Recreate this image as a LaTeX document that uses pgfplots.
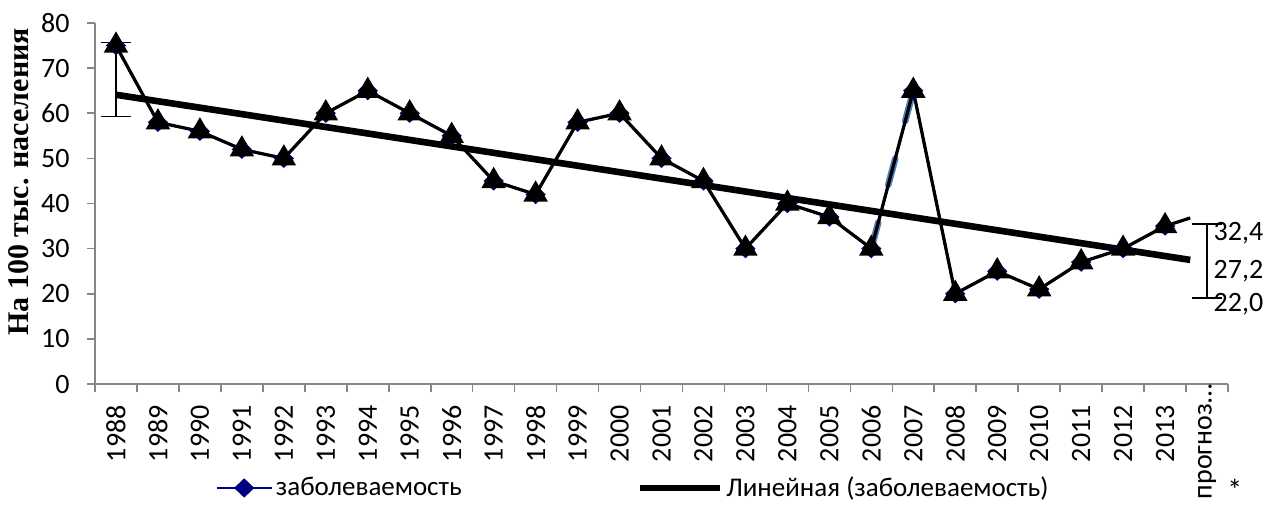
\documentclass[border=0pt]{standalone}
\usepackage{fontspec}
\setmainfont{Carlito}
\newfontfamily\tnr{Liberation Serif}
\usepackage{pgfplots}
\pgfplotsset{compat=1.18}
\definecolor{navyb}{RGB}{0,0,128}
\definecolor{dashblue}{RGB}{79,129,189}
\definecolor{axgray}{RGB}{134,134,134}
\begin{document}
\begin{tikzpicture}[font=\fontsize{12.5pt}{15pt}\selectfont]
\useasboundingbox (-47.5pt,-63pt) rectangle (586pt,192pt);
\begin{axis}[
  scale only axis, width=566.5pt, height=180.5pt,
  xmin=-0.5, xmax=26.5, ymin=0, ymax=80,
  clip=false,
  axis lines*=left,
  axis line style={axgray, line width=0.8pt},
  ytick={0,10,...,80},
  xtick={0,...,26},
  xticklabels={1988,1989,1990,1991,1992,1993,1994,1995,1996,1997,1998,1999,2000,2001,2002,2003,2004,2005,2006,2007,2008,2009,2010,2011,2012,2013,прогноз…\kern-10.5pt},
  major x tick style={draw=none},
  minor xtick={-0.5,0.5,...,26.5},
  tick align=outside,
  major tick length=4pt, minor tick length=4pt,
  tick style={axgray, line width=0.8pt},
  tick label style={font=\fontsize{14pt}{16pt}\selectfont},
  xticklabel style={rotate=90, anchor=east, inner sep=0pt, xshift=-6.5pt},
  yticklabel style={anchor=east, inner sep=0pt, xshift=-8.5pt},
  /pgf/number format/assume math mode=true,
  every axis y label/.style={at={(axis description cs:-0.067,0.56)}, rotate=90, anchor=center},
  ylabel={\fontsize{15pt}{18pt}\selectfont\tnr\bfseries На 100 тыс. населения},
  legend style={at={(axis description cs:0.106,-0.288)}, anchor=west, draw=none, inner sep=0pt,
    legend columns=2, /tikz/every even column/.append style={column sep=86pt},
    font=\fontsize{13.5pt}{16pt}\selectfont,
    nodes={inner sep=1.5pt}},
]
% trend line
\addplot[black, line width=3.3pt, forget plot] coordinates {(0,64.1) (25.6,27.5)};
% highlighted segment
\addplot[dashblue, line width=3.3pt, dash pattern=on 13.5pt off 19.5pt, line cap=round, forget plot] coordinates {(18,30) (19,65)};
% series (navy diamonds)
\addplot[navyb, line width=1.2pt, mark=diamond*, mark size=4pt, mark options={xscale=1.4},
  legend image code/.code={\draw[mark repeat=2,mark phase=2] plot coordinates {(0pt,0pt) (13.75pt,0pt) (27.5pt,0pt)};}]
coordinates {
(0,75) (1,58) (2,56) (3,52) (4,50) (5,60) (6,65) (7,60) (8,55) (9,45)
(10,42) (11,58) (12,60) (13,50) (14,45) (15,30) (16,40) (17,37) (18,30) (19,65)
(20,20) (21,25) (22,21) (23,27) (24,30) (25,35)
};
\addlegendentry{заболеваемость}
% black overlay with triangles
\addplot[black, line width=1.6pt, mark=triangle*, mark size=5.5pt, mark indices={1,...,26}, forget plot]
coordinates {
(0,75) (1,58) (2,56) (3,52) (4,50) (5,60) (6,65) (7,60) (8,55) (9,45)
(10,42) (11,58) (12,60) (13,50) (14,45) (15,30) (16,40) (17,37) (18,30) (19,65)
(20,20) (21,25) (22,21) (23,27) (24,30) (25,35) (25.6,36.8)
};
% legend entry for trend
\addlegendimage{black, line width=3.3pt, legend image code/.code={\draw[black, line width=3.3pt] (0pt,0pt) -- (40pt,0pt);}}
\addlegendentry{Линейная (заболеваемость)}
% error bars
\addplot[draw=none, mark=none, forget plot,
  error bars/.cd, y dir=both, y explicit,
  error bar style={draw=black, line width=0.8pt},
  error mark options={draw=black, line width=0.8pt, rotate=90, mark size=7.5pt}]
coordinates {(0,67.5) +- (0,8.2) (26,27.2) +- (0,8.2)};
\node[anchor=west, inner sep=0pt, font=\fontsize{14pt}{16pt}\selectfont] at (axis cs:26.15,33.4) {32,4};
\node[anchor=west, inner sep=0pt, font=\fontsize{14pt}{16pt}\selectfont] at (axis cs:26.15,25.0) {27,2};
\node[anchor=west, inner sep=0pt, font=\fontsize{14pt}{16pt}\selectfont] at (axis cs:26.15,17.7) {22,0};
\node[anchor=south, inner sep=0pt, font=\fontsize{15pt}{17pt}\selectfont] at (axis description cs:1.006,-0.325) {*};
\end{axis}
\end{tikzpicture}
\end{document}
